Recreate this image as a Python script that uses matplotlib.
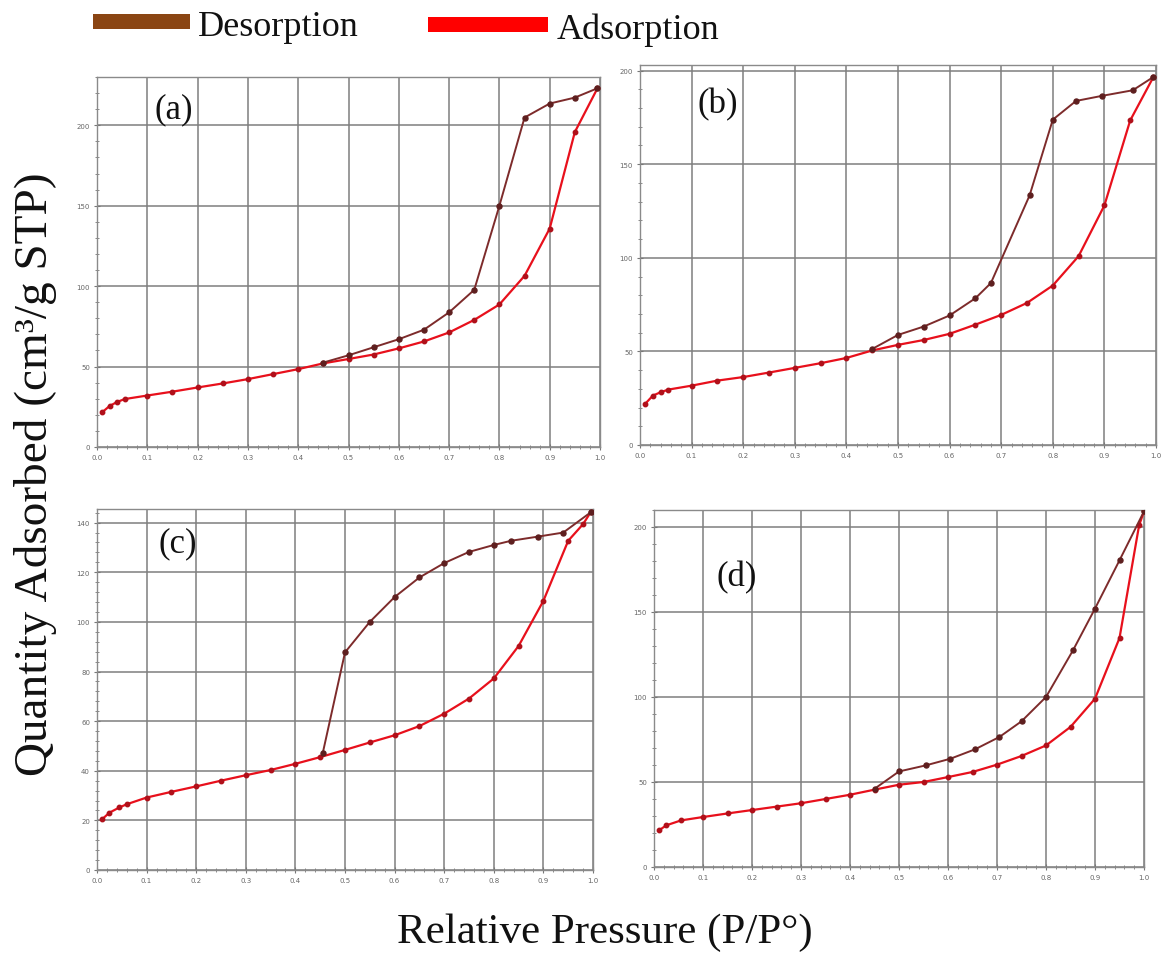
import matplotlib
matplotlib.use("Agg")
import matplotlib.pyplot as plt
from matplotlib.patches import Rectangle
from matplotlib.ticker import MultipleLocator

# ---- isotherm data (P/P0 vs quantity adsorbed, cm3/g STP) ----
a_ads_x = [0.01, 0.025, 0.04, 0.055, 0.1, 0.15, 0.2, 0.25, 0.3, 0.35, 0.4, 0.45,
           0.5, 0.55, 0.6, 0.65, 0.7, 0.75, 0.8, 0.85, 0.9, 0.95, 0.995]
a_ads_y = [21.5, 25.5, 28.0, 29.8, 32.0, 34.4, 37.0, 39.5, 42.2, 45.3, 48.4, 52.0,
           54.7, 57.5, 61.3, 65.6, 71.2, 79.0, 88.6, 106.4, 135.8, 195.8, 223.0]
a_des_x = [0.995, 0.95, 0.9, 0.85, 0.8, 0.75, 0.7, 0.65, 0.6, 0.55, 0.5, 0.45]
a_des_y = [223.0, 217.2, 213.5, 204.8, 150.0, 97.7, 83.7, 72.9, 67.0, 62.0, 57.0, 52.5]

b_ads_x = [0.01, 0.025, 0.04, 0.055, 0.1, 0.15, 0.2, 0.25, 0.3, 0.35, 0.4, 0.45,
           0.5, 0.55, 0.6, 0.65, 0.7, 0.75, 0.8, 0.85, 0.9, 0.95, 0.995]
b_ads_y = [22.0, 26.4, 28.2, 29.6, 31.7, 34.4, 36.3, 38.7, 41.2, 43.7, 46.5, 50.5,
           53.5, 56.1, 59.4, 64.3, 69.5, 75.9, 85.2, 100.9, 128.0, 173.4, 196.6]
b_des_x = [0.995, 0.955, 0.895, 0.845, 0.8, 0.755, 0.68, 0.65, 0.6, 0.55, 0.5, 0.45]
b_des_y = [196.6, 189.5, 186.5, 183.8, 173.8, 133.3, 86.5, 78.4, 69.2, 63.3, 58.8, 51.3]

c_ads_x = [0.01, 0.025, 0.045, 0.06, 0.1, 0.15, 0.2, 0.25, 0.3, 0.35, 0.4, 0.45,
           0.5, 0.55, 0.6, 0.65, 0.7, 0.75, 0.8, 0.85, 0.9, 0.95, 0.98, 0.995]
c_ads_y = [20.4, 23.1, 25.2, 26.5, 29.2, 31.5, 33.7, 36.0, 38.2, 40.3, 42.8, 45.5,
           48.4, 51.4, 54.3, 58.0, 63.0, 69.1, 77.2, 90.3, 108.5, 132.7, 139.4, 144.1]
c_des_x = [0.995, 0.94, 0.89, 0.835, 0.8, 0.75, 0.7, 0.65, 0.6, 0.55, 0.5, 0.455]
c_des_y = [144.1, 136.0, 134.4, 132.7, 131.0, 128.2, 123.7, 117.9, 110.0, 100.0, 87.7, 47.0]

d_ads_x = [0.01, 0.025, 0.055, 0.1, 0.15, 0.2, 0.25, 0.3, 0.35, 0.4, 0.45,
           0.5, 0.55, 0.6, 0.65, 0.7, 0.75, 0.8, 0.85, 0.9, 0.95, 0.99, 1.0]
d_ads_y = [21.5, 24.5, 27.4, 29.4, 31.5, 33.5, 35.5, 37.5, 40.0, 42.5, 45.5,
           48.4, 50.0, 52.9, 55.9, 60.2, 65.3, 71.5, 82.4, 99.0, 134.7, 201.0, 209.2]
d_des_x = [1.0, 0.95, 0.9, 0.855, 0.8, 0.75, 0.705, 0.655, 0.605, 0.555, 0.5, 0.45]
d_des_y = [209.2, 180.4, 152.0, 127.4, 100.0, 85.7, 76.5, 69.2, 63.7, 59.8, 56.2, 46.0]

panel_labels = ["(a)", "(b)", "(c)", "(d)"]
x_ticks = [0.0, 0.1, 0.2, 0.3, 0.4, 0.5, 0.6, 0.7, 0.8, 0.9, 1.0]

# ---- styling ----
SERIF = ["Liberation Serif", "DejaVu Serif"]
DES_LINE = "#7d2b2b"
DES_MARK = "#5e1f1f"
ADS_LINE = "#e8101c"
ADS_MARK = "#b0101a"
GRID = "#7f7f7f"

fig = plt.figure(figsize=(11.67, 9.54), dpi=100)
W, H = 1167.0, 954.0


def axes_px(left, right, top, bottom):
    return fig.add_axes([left / W, 1 - bottom / H, (right - left) / W, (bottom - top) / H])


panels = [
    dict(rect=(97, 600, 78, 448), ylim=230, major=50, minor=10,
         ads=(a_ads_x, a_ads_y), des=(a_des_x, a_des_y), lab=(0.152, 0.915)),
    dict(rect=(640, 1156, 66, 446), ylim=203, major=50, minor=10,
         ads=(b_ads_x, b_ads_y), des=(b_des_x, b_des_y), lab=(0.151, 0.897)),
    dict(rect=(97, 593, 510, 871), ylim=145.5, major=20, minor=4,
         ads=(c_ads_x, c_ads_y), des=(c_des_x, c_des_y), lab=(0.163, 0.905)),
    dict(rect=(654, 1144, 511, 868), ylim=210, major=50, minor=10,
         ads=(d_ads_x, d_ads_y), des=(d_des_x, d_des_y), lab=(0.169, 0.812)),
]

for p, lab in zip(panels, panel_labels):
    ax = axes_px(*p["rect"])
    ax.set_xlim(0, 1.0)
    ax.set_ylim(0, p["ylim"])
    ax.set_xticks(x_ticks)
    ax.xaxis.set_minor_locator(MultipleLocator(0.02))
    ax.yaxis.set_major_locator(MultipleLocator(p["major"]))
    ax.yaxis.set_minor_locator(MultipleLocator(p["minor"]))
    ax.set_xticklabels([f"{v:.1f}" for v in x_ticks])
    ax.grid(True, which="major", color=GRID, linewidth=1.1)
    ax.tick_params(which="both", direction="inout", colors="#777777", labelsize=5,
                   labelcolor="#666666", pad=3)
    ax.tick_params(which="major", length=4, width=0.8)
    ax.tick_params(which="minor", length=3, width=0.6)
    for s in ax.spines.values():
        s.set_color("#8a8a8a")
        s.set_linewidth(1.0)

    ax.plot(p["ads"][0], p["ads"][1], color=ADS_LINE, linewidth=1.6,
            marker="o", markersize=3.2, markerfacecolor=ADS_MARK,
            markeredgecolor=ADS_MARK, zorder=3)
    ax.plot(p["des"][0], p["des"][1], color=DES_LINE, linewidth=1.4,
            marker="o", markersize=3.6, markerfacecolor=DES_MARK,
            markeredgecolor=DES_MARK, zorder=4)
    ax.text(p["lab"][0], p["lab"][1], lab, transform=ax.transAxes,
            family=SERIF, fontsize=25, ha="center", va="center", color="#111111")

# ---- legend across the top ----
fig.patches.append(Rectangle((93 / W, 1 - 30 / H), 97 / W, 15 / H,
                             transform=fig.transFigure, facecolor="#8a4513",
                             edgecolor="none"))
fig.text(198 / W, 1 - 27 / H, "Desorption", family=SERIF, fontsize=26,
         ha="left", va="center", color="#111111")
fig.patches.append(Rectangle((428 / W, 1 - 33 / H), 120 / W, 15 / H,
                             transform=fig.transFigure, facecolor="#ff0000",
                             edgecolor="none"))
fig.text(557 / W, 1 - 30 / H, "Adsorption", family=SERIF, fontsize=26,
         ha="left", va="center", color="#111111")

# ---- shared axis titles ----
fig.text(36 / W, 1 - 474 / H, "Quantity Adsorbed (cm³/g STP)", family=SERIF,
         fontsize=34, rotation=90, ha="center", va="center", color="#111111")
fig.text(605 / W, 1 - 933 / H, "Relative Pressure (P/P°)", family=SERIF,
         fontsize=31, ha="center", va="center", color="#111111")

fig.savefig("out.png", dpi=100, facecolor="white")
